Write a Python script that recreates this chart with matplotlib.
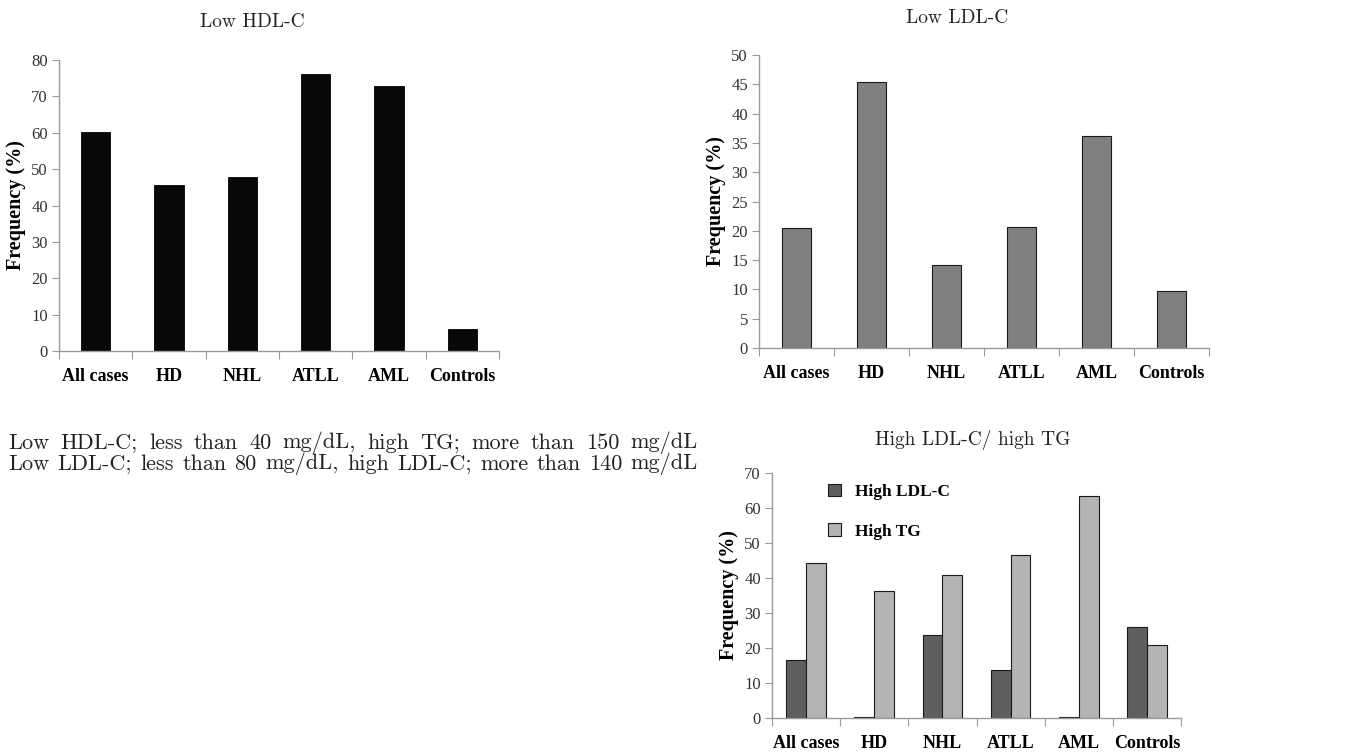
import matplotlib
matplotlib.use("Agg")
import matplotlib.pyplot as plt
import numpy as np

# ---------------- data ----------------
categories = ["All cases", "HD", "NHL", "ATLL", "AML", "Controls"]
low_hdl = [60.3, 45.6, 47.8, 76.1, 72.9, 6.0]
low_ldl = [20.4, 45.4, 14.1, 20.6, 36.2, 9.8]
high_ldl = [16.7, 0.3, 23.8, 13.8, 0.3, 26.0]
high_tg = [44.3, 36.4, 40.8, 46.5, 63.5, 21.0]
note_lines = [
    "Low HDL-C; less than 40 mg/dL, high TG; more than 150 mg/dL",
    "Low LDL-C; less than 80 mg/dL, high LDL-C; more than 140 mg/dL",
]

W, H = 1354, 753
fig = plt.figure(figsize=(W / 100, H / 100), dpi=100)
fig.patch.set_facecolor("white")

SERIF = ["Liberation Serif", "DejaVu Serif"]
CM = ["cmr10", "Liberation Serif", "DejaVu Serif"]
SPINE = "#9a9a9a"


def px_axes(left, right, top, bottom):
    return fig.add_axes([left / W, 1 - bottom / H, (right - left) / W, (bottom - top) / H])


def style(ax, ymax, ystep):
    n = len(categories)
    ax.set_xlim(-0.5, n - 0.5)
    ax.set_ylim(0, ymax)
    ax.set_yticks(np.arange(0, ymax + 0.1, ystep))
    for s in ["top", "right"]:
        ax.spines[s].set_visible(False)
    for s in ["left", "bottom"]:
        ax.spines[s].set_color(SPINE)
        ax.spines[s].set_linewidth(1.0)
    ax.set_xticks(np.arange(-0.5, n, 1.0))
    ax.set_xticklabels([])
    ax.set_xticks(np.arange(n), minor=True)
    ax.set_xticklabels(categories, minor=True, fontsize=13, fontweight="bold",
                       family=SERIF)
    ax.tick_params(axis="x", which="major", length=6, color=SPINE, direction="out")
    ax.tick_params(axis="x", which="minor", length=0, pad=12)
    ax.tick_params(axis="y", length=5, color=SPINE, direction="out",
                   labelsize=12, labelcolor="#333333", pad=3)
    for t in ax.get_yticklabels():
        t.set_family(SERIF)
    ax.set_ylabel("Frequency (%)", fontsize=14.5, fontweight="bold", family=SERIF,
                  labelpad=4)


x = np.arange(len(categories))

# Panel 1: Low HDL-C
ax1 = px_axes(59, 499, 60, 351)
ax1.bar(x, low_hdl, width=0.4, color="#080808", edgecolor="#000000", linewidth=0.6)
style(ax1, 80, 10)
fig.text(252 / W, 1 - 22 / H, "Low HDL-C", ha="center", va="center",
         fontsize=14, family=CM, color="#222222")

# Panel 2: Low LDL-C
ax2 = px_axes(759, 1209, 55, 348)
ax2.bar(x, low_ldl, width=0.39, color="#808080", edgecolor="#1a1a1a", linewidth=0.8)
style(ax2, 50, 5)
fig.text(957 / W, 1 - 18 / H, "Low LDL-C", ha="center", va="center",
         fontsize=14, family=CM, color="#222222")

# Panel 3: High LDL-C / high TG
ax3 = px_axes(772, 1181, 473, 718)
bw = 0.29
ax3.bar(x - bw / 2, high_ldl, width=bw, color="#5f5f5f", edgecolor="#1a1a1a",
        linewidth=0.8, label="High LDL-C")
ax3.bar(x + bw / 2, high_tg, width=bw, color="#b4b4b4", edgecolor="#1a1a1a",
        linewidth=0.8, label="High TG")
style(ax3, 70, 10)
leg = ax3.legend(loc="upper left", bbox_to_anchor=(0.12, 0.985), frameon=False,
                 handlelength=0.75, handleheight=0.75, handletextpad=0.8,
                 labelspacing=1.35, borderaxespad=0,
                 prop={"family": SERIF, "weight": "bold", "size": 12.5})
fig.text(973 / W, 1 - 440 / H, "High LDL-C/ high TG", ha="center", va="center",
         fontsize=14, family=CM, color="#222222")

# Justified note text
renderer = fig.canvas.get_renderer()


def justified(line, x0, x1, yc, size):
    words = line.split()
    ts = [fig.text(0, 1 - yc / H, w, fontsize=size, family=CM, va="center",
                   ha="left", color="#222222") for w in words]
    widths = [t.get_window_extent(renderer).width for t in ts]
    gap = (x1 - x0 - sum(widths)) / (len(words) - 1)
    xx = x0
    for t, w in zip(ts, widths):
        t.set_x(xx / W)
        xx += w + gap


justified(note_lines[0], 8, 698, 443, 16)
justified(note_lines[1], 8, 698, 464, 16)

fig.savefig("out.png", dpi=100)
